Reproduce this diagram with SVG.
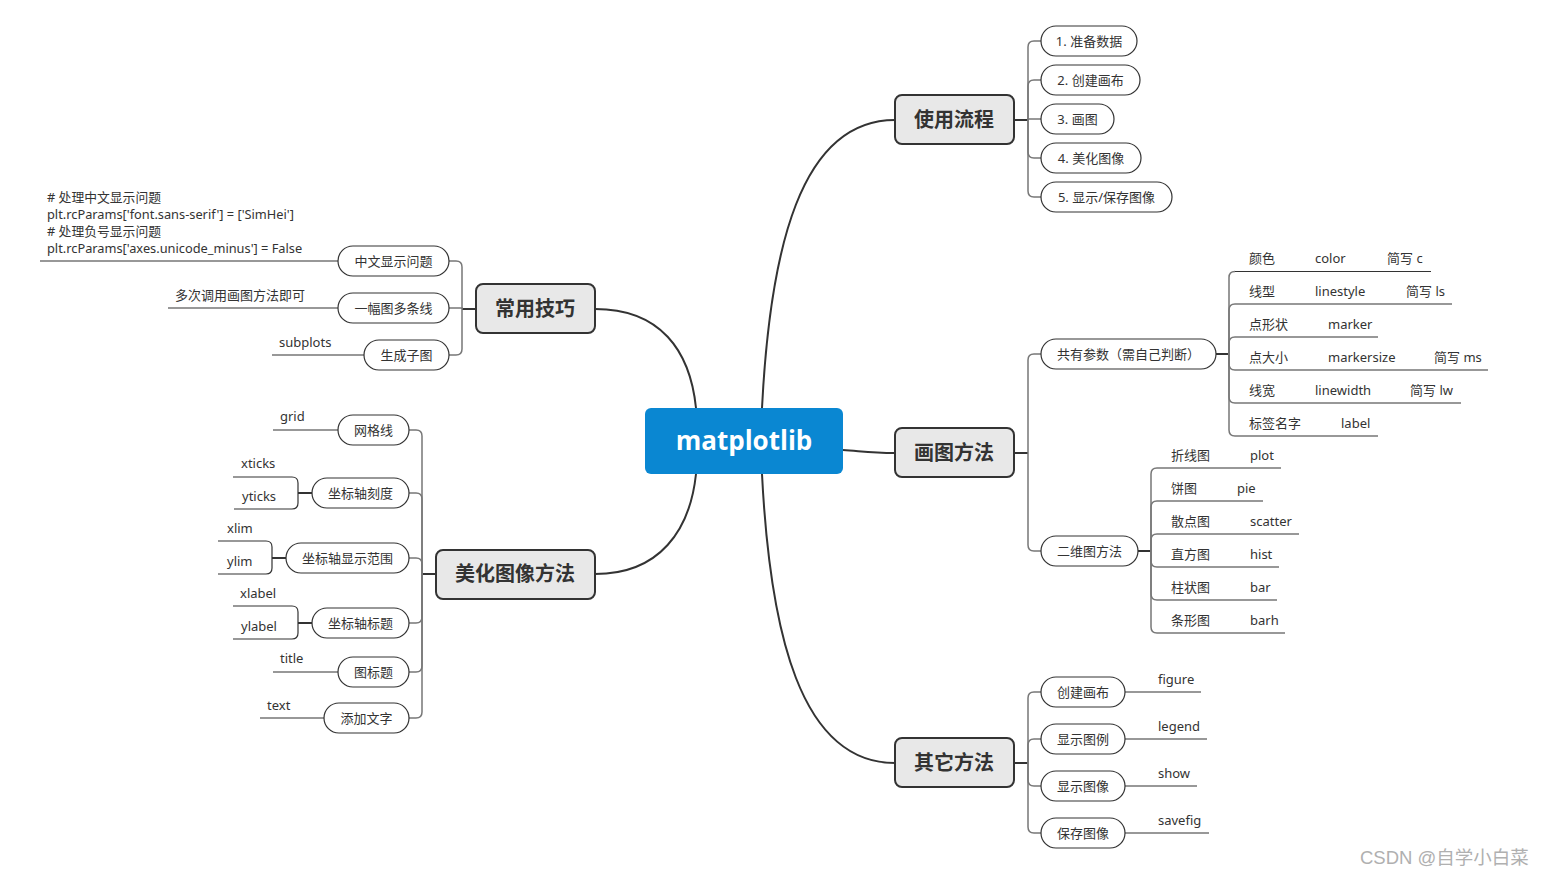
<svg xmlns="http://www.w3.org/2000/svg" width="1546" height="876" viewBox="0 0 1546 876">
<style>
.main{fill:#e8e8e8;stroke:#333;stroke-width:2}
.pill{fill:#fff;stroke:#333;stroke-width:1.2}
.mt{font-family:"Noto Sans CJK SC",sans-serif;font-size:20px;font-weight:bold;fill:#333;text-anchor:middle}
.st{font-family:"Noto Sans","Noto Sans CJK SC",sans-serif;font-size:13px;fill:#333;text-anchor:middle}
.lt{font-family:"Noto Sans","Noto Sans CJK SC",sans-serif;font-size:13px;fill:#333}
.ct{font-family:"Noto Sans","Noto Sans CJK SC",sans-serif;font-size:12.8px;fill:#333}
.curve{fill:none;stroke:#333;stroke-width:2}
.stub{fill:none;stroke:#333;stroke-width:2}
.br{fill:none;stroke:#777;stroke-width:1.5}
.leaf{fill:none;stroke:#333;stroke-width:1.2}
</style>
<rect width="1546" height="876" fill="#fff"/>

<g id="connectors">
  <path class="curve" d="M762,408 C770,250 800,120 895,120"/>
  <path class="curve" d="M843,450 C860,451 870,453 895,453"/>
  <path class="curve" d="M762,474 C770,632 800,763 895,763"/>
  <path class="curve" d="M696,408 C690,350 660,309 595,309"/>
  <path class="curve" d="M696,474 C690,530 660,574 595,574"/>

  <!-- 使用流程 -->
  <path class="stub" d="M1014,120 H1028"/>
  <path class="br" d="M1028,120 V47 Q1028,41 1034,41 H1041"/>
  <path class="br" d="M1028,120 V86 Q1028,80 1034,80 H1041"/>
  <path class="br" d="M1028,120 V119 H1041"/>
  <path class="br" d="M1028,120 V152 Q1028,158 1034,158 H1041"/>
  <path class="br" d="M1028,120 V191 Q1028,197 1034,197 H1041"/>

  <!-- 画图方法 -->
  <path class="stub" d="M1014,453 H1028"/>
  <path class="br" d="M1028,453 V360 Q1028,354 1034,354 H1041"/>
  <path class="br" d="M1028,453 V545 Q1028,551 1034,551 H1041"/>

  <!-- 共有参数 -->
  <path class="stub" d="M1216,354 H1229"/>
  <path class="br" d="M1229,354 V277.5 Q1229,271.5 1235,271.5"/>
  <path class="br" d="M1229,354 V310 Q1229,304 1235,304"/>
  <path class="br" d="M1229,354 V343 Q1229,337 1235,337"/>
  <path class="br" d="M1229,354 V364 Q1229,370 1235,370"/>
  <path class="br" d="M1229,354 V397 Q1229,403 1235,403"/>
  <path class="br" d="M1229,354 V430 Q1229,436 1235,436"/>
  <path class="leaf" d="M1235,271.5 H1431 M1235,304 H1452 M1235,337 H1378 M1235,370 H1488 M1235,403 H1461 M1235,436 H1378"/>

  <!-- 二维图方法 -->
  <path class="stub" d="M1138,551 H1151"/>
  <path class="br" d="M1151,551 V474 Q1151,468 1157,468"/>
  <path class="br" d="M1151,551 V507 Q1151,501 1157,501"/>
  <path class="br" d="M1151,551 V540 Q1151,534 1157,534"/>
  <path class="br" d="M1151,551 V561 Q1151,567 1157,567"/>
  <path class="br" d="M1151,551 V594 Q1151,600 1157,600"/>
  <path class="br" d="M1151,551 V627 Q1151,633 1157,633"/>
  <path class="leaf" d="M1157,468 H1281 M1157,501 H1263 M1157,534 H1299 M1157,567 H1279 M1157,600 H1277 M1157,633 H1285"/>

  <!-- 其它方法 -->
  <path class="stub" d="M1014,763 H1028"/>
  <path class="br" d="M1028,763 V698 Q1028,692 1034,692 H1041"/>
  <path class="br" d="M1028,763 V745 Q1028,739 1034,739 H1041"/>
  <path class="br" d="M1028,763 V780 Q1028,786 1034,786 H1041"/>
  <path class="br" d="M1028,763 V827 Q1028,833 1034,833 H1041"/>
  <path class="leaf" d="M1125,692 H1201 M1125,739 H1207 M1125,786 H1197 M1125,833 H1209"/>

  <!-- 常用技巧 -->
  <path class="stub" d="M476,309 H462"/>
  <path class="br" d="M462,309 V267 Q462,261 456,261 H449"/>
  <path class="br" d="M462,309 V308 H449"/>
  <path class="br" d="M462,309 V349 Q462,355 456,355 H449"/>
  <path class="leaf" d="M338,261 H40 M338,308 H168 M364,355 H272"/>

  <!-- 美化图像方法 -->
  <path class="stub" d="M436,574 H422"/>
  <path class="br" d="M422,574 V436 Q422,430 416,430 H409"/>
  <path class="br" d="M422,574 V499 Q422,493 416,493 H409"/>
  <path class="br" d="M422,574 V564 Q422,558 416,558 H409"/>
  <path class="br" d="M422,574 V617 Q422,623 416,623 H409"/>
  <path class="br" d="M422,574 V666 Q422,672 416,672 H409"/>
  <path class="br" d="M422,574 V712 Q422,718 416,718 H409"/>
  <path class="leaf" d="M338,430 H273 M338,672 H273 M324,718 H260"/>
  <path class="stub" d="M312,493 H298"/>
  <path class="leaf" d="M298,493 V483 Q298,477 292,477 H233 M298,493 V503 Q298,509 292,509 H234"/>
  <path class="stub" d="M286,558 H272"/>
  <path class="leaf" d="M272,558 V547 Q272,541 266,541 H218 M272,558 V568 Q272,574 266,574 H218"/>
  <path class="stub" d="M312,623 H298"/>
  <path class="leaf" d="M298,623 V612 Q298,606 292,606 H233 M298,623 V633 Q298,639 292,639 H233"/>
</g>

<g id="center">
  <rect x="645" y="408" width="198" height="66" rx="6" fill="#0a87d2"/>
  <text x="744" y="450" font-family="'Open Sans','Noto Sans',sans-serif" font-size="26" font-weight="bold" fill="#fff" text-anchor="middle">matplotlib</text>
</g>

<g id="n-shiyongliucheng">
  <rect class="main" x="895" y="95" width="119" height="49" rx="7"/>
  <text class="mt" x="954" y="127">使用流程</text>
</g>
<g id="n-huatufangfa">
  <rect class="main" x="895" y="428" width="119" height="49" rx="7"/>
  <text class="mt" x="954" y="460">画图方法</text>
</g>
<g id="n-qitafangfa">
  <rect class="main" x="895" y="738" width="119" height="49" rx="7"/>
  <text class="mt" x="954" y="770">其它方法</text>
</g>
<g id="n-changyongjiqiao">
  <rect class="main" x="476" y="284" width="119" height="49" rx="7"/>
  <text class="mt" x="535" y="316">常用技巧</text>
</g>
<g id="n-meihua">
  <rect class="main" x="436" y="550" width="159" height="49" rx="7"/>
  <text class="mt" x="515" y="581">美化图像方法</text>
</g>

<g id="n-step1"><rect class="pill" x="1041" y="26" width="96" height="30" rx="15"/><text class="st" x="1089" y="45.5">1. 准备数据</text></g>
<g id="n-step2"><rect class="pill" x="1041" y="65" width="99" height="30" rx="15"/><text class="st" x="1090.5" y="84.5">2. 创建画布</text></g>
<g id="n-step3"><rect class="pill" x="1041" y="104" width="73" height="30" rx="15"/><text class="st" x="1077.5" y="123.5">3. 画图</text></g>
<g id="n-step4"><rect class="pill" x="1041" y="143" width="100" height="30" rx="15"/><text class="st" x="1091" y="162.5">4. 美化图像</text></g>
<g id="n-step5"><rect class="pill" x="1041" y="182" width="131" height="30" rx="15"/><text class="st" x="1106.5" y="201.5">5. 显示/保存图像</text></g>

<g id="n-gongyou"><rect class="pill" x="1041" y="339" width="175" height="30" rx="15"/><text class="st" x="1128.5" y="358.5">共有参数（需自己判断）</text></g>
<g id="n-erwei"><rect class="pill" x="1041" y="536" width="97" height="30" rx="15"/><text class="st" x="1089.5" y="555.5">二维图方法</text></g>

<g id="leaves-gongyou">
  <text class="lt" x="1249" y="263">颜色</text><text class="lt" x="1315" y="263">color</text><text class="lt" x="1387" y="263">简写 c</text>
  <text class="lt" x="1249" y="296">线型</text><text class="lt" x="1315" y="296">linestyle</text><text class="lt" x="1406" y="296">简写 ls</text>
  <text class="lt" x="1249" y="329">点形状</text><text class="lt" x="1328" y="329">marker</text>
  <text class="lt" x="1249" y="362">点大小</text><text class="lt" x="1328" y="362">markersize</text><text class="lt" x="1434" y="362">简写 ms</text>
  <text class="lt" x="1249" y="395">线宽</text><text class="lt" x="1315" y="395">linewidth</text><text class="lt" x="1410" y="395">简写 lw</text>
  <text class="lt" x="1249" y="428">标签名字</text><text class="lt" x="1341" y="428">label</text>
</g>

<g id="leaves-erwei">
  <text class="lt" x="1171" y="460">折线图</text><text class="lt" x="1250" y="460">plot</text>
  <text class="lt" x="1171" y="493">饼图</text><text class="lt" x="1237" y="493">pie</text>
  <text class="lt" x="1171" y="526">散点图</text><text class="lt" x="1250" y="526">scatter</text>
  <text class="lt" x="1171" y="559">直方图</text><text class="lt" x="1250" y="559">hist</text>
  <text class="lt" x="1171" y="592">柱状图</text><text class="lt" x="1250" y="592">bar</text>
  <text class="lt" x="1171" y="625">条形图</text><text class="lt" x="1250" y="625">barh</text>
</g>

<g id="n-chuangjian"><rect class="pill" x="1041" y="677" width="84" height="30" rx="15"/><text class="st" x="1083" y="696.5">创建画布</text></g>
<g id="n-tuli"><rect class="pill" x="1041" y="724" width="84" height="30" rx="15"/><text class="st" x="1083" y="743.5">显示图例</text></g>
<g id="n-xianshi"><rect class="pill" x="1041" y="771" width="84" height="30" rx="15"/><text class="st" x="1083" y="790.5">显示图像</text></g>
<g id="n-baocun"><rect class="pill" x="1041" y="818" width="84" height="30" rx="15"/><text class="st" x="1083" y="837.5">保存图像</text></g>
<g id="leaves-qita">
  <text class="lt" x="1158" y="684">figure</text>
  <text class="lt" x="1158" y="731">legend</text>
  <text class="lt" x="1158" y="778">show</text>
  <text class="lt" x="1158" y="825">savefig</text>
</g>

<g id="n-zhongwen"><rect class="pill" x="338" y="246" width="111" height="30" rx="15"/><text class="st" x="393.5" y="265.5">中文显示问题</text></g>
<g id="n-yifu"><rect class="pill" x="338" y="293" width="111" height="30" rx="15"/><text class="st" x="393.5" y="312.5">一幅图多条线</text></g>
<g id="n-zitu"><rect class="pill" x="364" y="340" width="85" height="30" rx="15"/><text class="st" x="406.5" y="359.5">生成子图</text></g>
<g id="leaves-changyong">
  <text class="ct" x="47" y="202"># 处理中文显示问题</text>
  <text class="ct" x="47" y="219">plt.rcParams['font.sans-serif'] = ['SimHei']</text>
  <text class="ct" x="47" y="236"># 处理负号显示问题</text>
  <text class="ct" x="47" y="253">plt.rcParams['axes.unicode_minus'] = False</text>
  <text class="lt" x="175" y="300">多次调用画图方法即可</text>
  <text class="lt" x="279" y="347">subplots</text>
</g>

<g id="n-wangge"><rect class="pill" x="338" y="415" width="71" height="30" rx="15"/><text class="st" x="373.5" y="434.5">网格线</text></g>
<g id="n-kedu"><rect class="pill" x="312" y="478" width="97" height="30" rx="15"/><text class="st" x="360.5" y="497.5">坐标轴刻度</text></g>
<g id="n-fanwei"><rect class="pill" x="286" y="543" width="123" height="30" rx="15"/><text class="st" x="347.5" y="562.5">坐标轴显示范围</text></g>
<g id="n-biaoti"><rect class="pill" x="312" y="608" width="97" height="30" rx="15"/><text class="st" x="360.5" y="627.5">坐标轴标题</text></g>
<g id="n-tubiaoti"><rect class="pill" x="338" y="657" width="71" height="30" rx="15"/><text class="st" x="373.5" y="676.5">图标题</text></g>
<g id="n-wenzi"><rect class="pill" x="324" y="703" width="85" height="30" rx="15"/><text class="st" x="366.5" y="722.5">添加文字</text></g>
<g id="leaves-meihua">
  <text class="lt" x="280" y="421">grid</text>
  <text class="lt" x="241" y="468">xticks</text>
  <text class="lt" x="242" y="501">yticks</text>
  <text class="lt" x="227" y="533">xlim</text>
  <text class="lt" x="227" y="566">ylim</text>
  <text class="lt" x="240" y="598">xlabel</text>
  <text class="lt" x="241" y="631">ylabel</text>
  <text class="lt" x="280" y="663">title</text>
  <text class="lt" x="267" y="710">text</text>
</g>

<text x="1360" y="864" font-family="'Liberation Sans','Noto Sans CJK SC',sans-serif" font-size="18.5" fill="#b0b0b0">CSDN @自学小白菜</text>
</svg>
